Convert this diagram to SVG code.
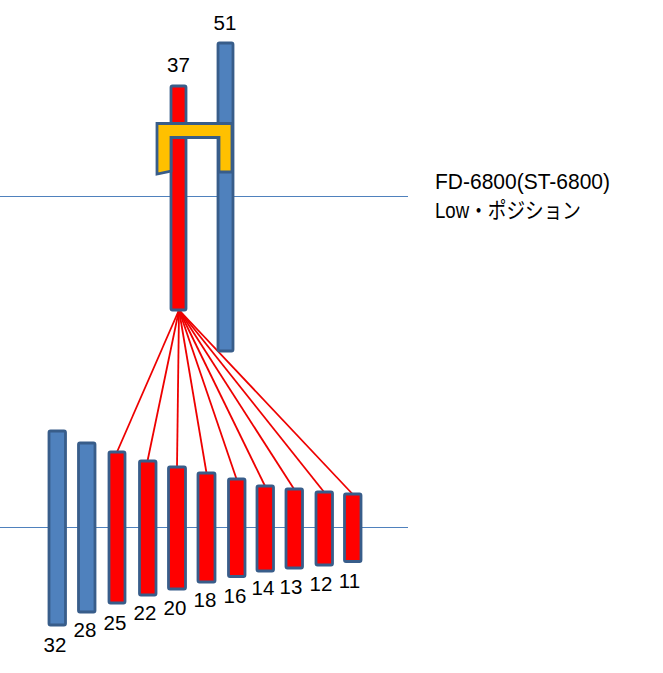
<svg xmlns="http://www.w3.org/2000/svg" width="663" height="673" viewBox="0 0 663 673">
<style>
.blue{fill:#4F81BD;stroke:#385D8A;stroke-width:2.8}
.red{fill:#FF0000;stroke:#385D8A;stroke-width:2.8}
.yel{fill:#FFC000;stroke:#385D8A;stroke-width:2.8;stroke-linejoin:miter}
.guide{stroke:#4F81BD;stroke-width:1;fill:none}
.wire{stroke:#EE0000;stroke-width:1.8;fill:none}
.num{font-family:"Liberation Sans",Arial,sans-serif;font-size:20.5px;fill:#000;text-anchor:middle}
.note{font-family:"Liberation Sans","Noto Sans CJK JP",sans-serif;font-size:22px;fill:#000}
</style>
<rect width="663" height="673" fill="#fff"/>
<g id="guides">
<line class="guide" x1="0" y1="196.5" x2="408" y2="196.5"/>
<line class="guide" x1="0" y1="527.5" x2="408" y2="527.5"/>
</g>
<g id="connectors">
<line class="wire" x1="179" y1="310" x2="117" y2="452"/>
<line class="wire" x1="179" y1="310" x2="147.5" y2="461"/>
<line class="wire" x1="179" y1="310" x2="177" y2="467"/>
<line class="wire" x1="179" y1="310" x2="206.5" y2="473"/>
<line class="wire" x1="179" y1="310" x2="236.5" y2="479"/>
<line class="wire" x1="179" y1="310" x2="265" y2="486"/>
<line class="wire" x1="179" y1="310" x2="294" y2="489"/>
<line class="wire" x1="179" y1="310" x2="324" y2="492"/>
<line class="wire" x1="179" y1="310" x2="352.5" y2="494"/>
</g>
<g id="n37">
<rect class="red" x="171" y="86" width="15" height="224" rx="1.5"/>
<text class="num" x="178.5" y="72">37</text>
</g>
<g id="n51">
<rect class="blue" x="218" y="43" width="15" height="308" rx="1.5"/>
<text class="num" x="225" y="30">51</text>
</g>
<g id="bracket">
<path class="yel" d="M157,123.5 L232,123.5 L232,172 L219,172 L219,137.5 L171,137.5 L171,171 L157,174 Z"/>
</g>
<g id="n32"><rect class="blue" x="49" y="431" width="16.5" height="194" rx="1.5"/><text class="num" x="55" y="652">32</text></g>
<g id="n28"><rect class="blue" x="78.5" y="443" width="16.5" height="169" rx="1.5"/><text class="num" x="85" y="637">28</text></g>
<g id="n25"><rect class="red" x="109" y="452" width="16" height="151" rx="1.5"/><text class="num" x="115" y="630">25</text></g>
<g id="n22"><rect class="red" x="139.5" y="461" width="16.5" height="134" rx="1.5"/><text class="num" x="145" y="620">22</text></g>
<g id="n20"><rect class="red" x="168.5" y="467" width="17" height="122" rx="1.5"/><text class="num" x="175" y="615">20</text></g>
<g id="n18"><rect class="red" x="198" y="473" width="17" height="109" rx="1.5"/><text class="num" x="205" y="607">18</text></g>
<g id="n16"><rect class="red" x="228.5" y="479" width="16.5" height="97.5" rx="1.5"/><text class="num" x="235" y="603">16</text></g>
<g id="n14"><rect class="red" x="257" y="486" width="16.5" height="85" rx="1.5"/><text class="num" x="263" y="595">14</text></g>
<g id="n13"><rect class="red" x="286" y="489" width="16.5" height="79" rx="1.5"/><text class="num" x="291" y="594">13</text></g>
<g id="n12"><rect class="red" x="316" y="492" width="16.5" height="73" rx="1.5"/><text class="num" x="321" y="591">12</text></g>
<g id="n11"><rect class="red" x="344.5" y="494" width="16.5" height="67.5" rx="1.5"/><text class="num" x="349.5" y="587.5">11</text></g>
<g id="caption">
<text class="note" x="435" y="188.5" textLength="175" lengthAdjust="spacingAndGlyphs">FD-6800(ST-6800)</text>
<text class="note" x="435" y="218" textLength="146" lengthAdjust="spacingAndGlyphs">Low・ポジション</text>
</g>
</svg>
